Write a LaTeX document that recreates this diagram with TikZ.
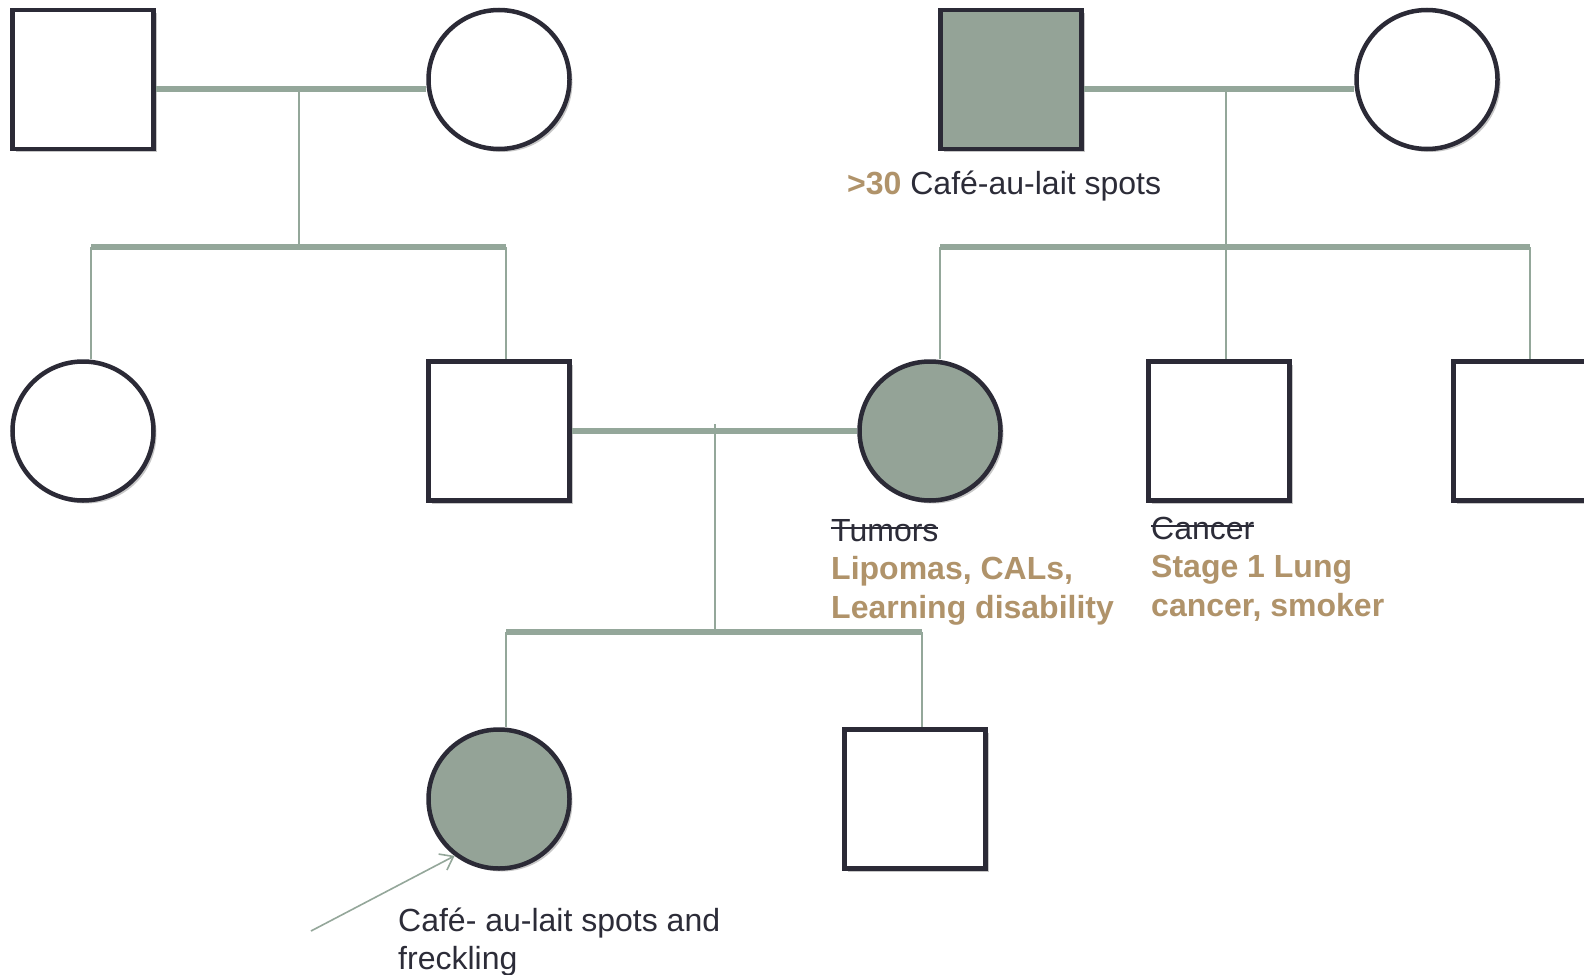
\documentclass[tikz,border=0pt]{standalone}
\usepackage{fontspec}
\setmainfont{Liberation Sans}
\usetikzlibrary{shapes.geometric,shadows,arrows.meta}
\definecolor{outl}{HTML}{2B2A36}
\definecolor{linec}{HTML}{94A79A}
\definecolor{aff}{HTML}{94A397}
\definecolor{tan}{HTML}{B0936A}
\definecolor{tdark}{HTML}{2C2C38}
\newcommand\mystrike[1]{\leavevmode\setbox0\hbox{#1}\rlap{\rule[0.38em]{\wd0}{1.6pt}}\box0}
\tikzset{
  person/.style={draw=outl, line width=4.5pt, minimum width=141pt, minimum height=139pt, inner sep=0pt,
    drop shadow={shadow xshift=3pt, shadow yshift=-3pt, opacity=0.22, fill=black}},
  male/.style={person, rectangle, fill=white},
  female/.style={person, ellipse, fill=white},
  affected/.style={fill=aff},
  marriage/.style={draw=linec, line width=5.5pt},
  descent/.style={draw=linec, line width=2pt},
  lbl/.style={anchor=base west, inner sep=0pt, align=left, text=tdark, font=\fontsize{32}{38}\selectfont},
  tanlbl/.style={lbl, text=tan, font=\fontsize{32}{39}\selectfont\bfseries},
}
\begin{document}
\begin{tikzpicture}[x=1pt,y=-1pt]
\useasboundingbox[fill=white] (0,0) rectangle (1584,974);
% generation I
\node[male] (A) at (83,79.5) {};
\node[female] (B) at (499,79.5) {};
\node[male,affected] (E) at (1011,79.5) {};
\node[female] (F) at (1427,79.5) {};
% generation II
\node[female] (C) at (83,431) {};
\node[male] (D) at (499,431) {};
\node[female,affected] (H) at (930,431) {};
\node[male] (G) at (1219,431) {};
\node[male] (I) at (1524,431) {};
% generation III
\node[female,affected] (J) at (499,799) {};
\node[male] (K) at (915,799) {};
% coordinates
\coordinate (mAB) at (299,89);
\coordinate (sL) at (299,247);
\coordinate (sL1) at (91,247);
\coordinate (sL2) at (506,247);
\coordinate (mEF) at (1226,89);
\coordinate (sR1) at (940,247);
\coordinate (sR3) at (1530,247);
\coordinate (mDH) at (715,424);
\coordinate (sB) at (715,632);
\coordinate (sB1) at (506,632);
\coordinate (sB2) at (922,632);
\coordinate (arr) at (311,931);
% lines left family
\draw[marriage] (A.east |- mAB) -- (B.west |- mAB);
\draw[descent] (mAB) -- (sL);
\draw[marriage] (sL1) -- (sL2);
\draw[descent] (sL1) -- (sL1 |- C.north);
\draw[descent] (sL2) -- (sL2 |- D.north);
% right family
\draw[marriage] (E.east |- mEF) -- (F.west |- mEF);
\draw[descent] (mEF) -- (mEF |- G.north);
\draw[marriage] (sR1) -- (sR3);
\draw[descent] (sR1) -- (sR1 |- H.north);
\draw[descent] (sR3) -- (sR3 |- I.north);
% middle couple
\draw[marriage] (D.east) -- (H.west);
\draw[descent] (mDH) -- (sB);
\draw[marriage] (sB1) -- (sB2);
\draw[descent] (sB1) -- (sB1 |- J.north);
\draw[descent] (sB2) -- (sB2 |- K.north);
% arrow
\draw[draw=linec, line width=1.6pt, -{Straight Barb[length=12pt,width=18pt]}] (arr) -- (J.232);
% labels
\node[lbl] (t30) at (847,194) {\textcolor{tan}{\bfseries >30} Café-au-lait spots};
\node[lbl] (tum) at (831,541) {\mystrike{Tumors}};
\node[tanlbl] (lip) at (831,618) {Lipomas, CALs,\\Learning disability};
\node[lbl] (can) at (1151,539) {\mystrike{Cancer}};
\node[tanlbl] (stg) at (1151,616) {Stage 1 Lung\\cancer, smoker};
\node[lbl] (cal) at (398,969) {Café- au-lait spots and\\freckling};
\end{tikzpicture}
\end{document}
